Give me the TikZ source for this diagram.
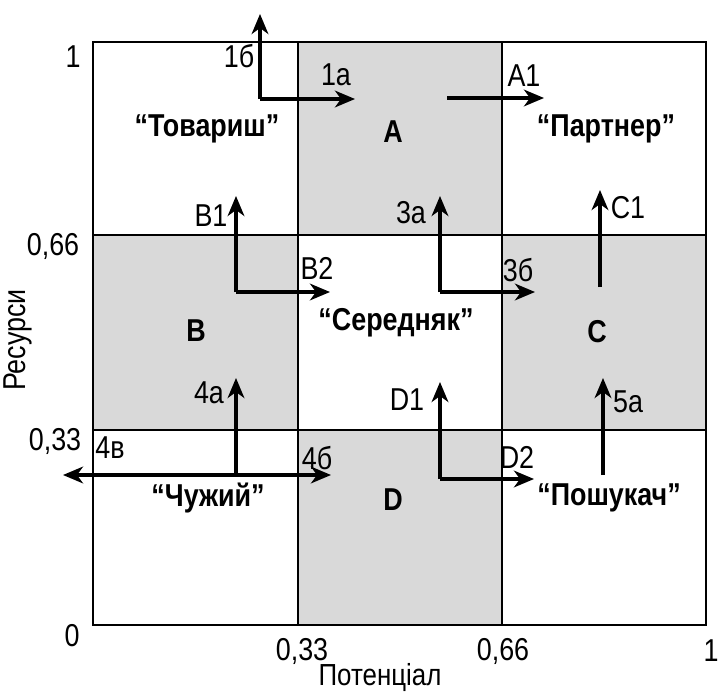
\documentclass[tikz,border=0pt]{standalone}
\usepackage{fontspec}
\setmainfont[FakeStretch=0.85]{Liberation Sans}
\usetikzlibrary{positioning}
\usetikzlibrary{arrows.meta}
\tikzset{>={Stealth[width=5mm,length=6mm,inset=1.8mm]}}
\definecolor{cellgray}{HTML}{D9D9D9}

\begin{document}
\begin{tikzpicture}[x=0.03cm, y=-0.03cm, font=\fontsize{27}{31}\selectfont, tag/.style={inner sep=0pt}, title/.style={inner sep=0pt, font=\fontsize{27}{31}\selectfont\bfseries}, move/.style={->, line width=2.7pt}, grid/.style={line width=1.7pt}]

    \useasboundingbox (0,0) rectangle (720,693);

    %Cells
    \fill[cellgray] (298,42) rectangle (502,235);
    \fill[cellgray] (93,235) rectangle (298,430);
    \fill[cellgray] (502,235) rectangle (706,430);
    \fill[cellgray] (298,430) rectangle (502,625);
    \draw[grid] (93,42) rectangle (706,625);
    \draw[grid] (298,42) -- (298,625) (502,42) -- (502,625);
    \draw[grid] (93,235) -- (706,235) (93,430) -- (706,430);

    %Nodes
    \node[title](tovarysh) at (207,129){“Товариш”};
    \node[title](A) at (393,132){A};
    \node[title](partner) at (606,129){“Партнер”};
    \node[title](B) at (196,331){B};
    \node[title](seredniak) at (396,323){“Середняк”};
    \node[title](C) at (597,332){C};
    \node[title](chuzhyi) at (208,498){“Чужий”};
    \node[title](D) at (393,500){D};
    \node[title](poshukach) at (609,498){“Пошукач”};

    \node[tag](y1) at (73,57){1};
    \node[tag](y066) at (53,246){0,66};
    \node[tag](y033) at (55,441){0,33};
    \node[tag](y0) at (72,636){0};
    \node[tag](x033) at (302,651){0,33};
    \node[tag](x066) at (503,651){0,66};
    \node[tag](x1) at (711,651){1};
    \node[tag, anchor=base, font=\fontsize{26}{30}\selectfont](xaxis) at (380,685){Потенціал};
    \node[tag, rotate=90](yaxis) at (18,340){Ресурси};

    \node[tag](l1b) at (239,56){1б};
    \node[tag](l1a) at (336,75){1а};
    \node[tag](lA1) at (524,76){A1};
    \node[tag](lB1) at (211,216){B1};
    \node[tag](lB2) at (317,268){B2};
    \node[tag](l3a) at (411,213){3а};
    \node[tag](l3b) at (518,270){3б};
    \node[tag](lC1) at (628,208){C1};
    \node[tag](l4a) at (209,393){4а};
    \node[tag](l4b) at (317,458){4б};
    \node[tag](l4v) at (110,448){4в};
    \node[tag](lD1) at (407,400){D1};
    \node[tag](lD2) at (517,457){D2};
    \node[tag](l5a) at (628,402){5а};

    %Points
    \coordinate (p1) at (260,99);
    \coordinate (p1up) at (260,14);
    \coordinate (p1right) at (355,99);
    \coordinate (pA) at (447,98);
    \coordinate (pAright) at (544,98);
    \coordinate (pB) at (236,292);
    \coordinate (pBup) at (236,196);
    \coordinate (pBright) at (330,292);
    \coordinate (p3) at (440,292);
    \coordinate (p3up) at (440,196);
    \coordinate (p3right) at (535,292);
    \coordinate (pC) at (600,287);
    \coordinate (pCup) at (600,190);
    \coordinate (p4) at (236,475);
    \coordinate (p4up) at (236,378);
    \coordinate (p4right) at (331,475);
    \coordinate (p4left) at (63,475);
    \coordinate (pD) at (440,479);
    \coordinate (pDup) at (440,382);
    \coordinate (pDright) at (534,479);
    \coordinate (p5) at (603,475);
    \coordinate (p5up) at (603,378);

    %Lines
    \draw[move] (p1) -- (p1up);
    \draw[move] (p1) -- (p1right);
    \draw[move] (pA) -- (pAright);
    \draw[move] (pB) -- (pBup);
    \draw[move] (pB) -- (pBright);
    \draw[move] (p3) -- (p3up);
    \draw[move] (p3) -- (p3right);
    \draw[move] (pC) -- (pCup);
    \draw[move] (p4) -- (p4up);
    \draw[move] (p4) -- (p4right);
    \draw[move] (p4) -- (p4left);
    \draw[move] (pD) -- (pDup);
    \draw[move] (pD) -- (pDright);
    \draw[move] (p5) -- (p5up);

\end{tikzpicture}
\end{document}
